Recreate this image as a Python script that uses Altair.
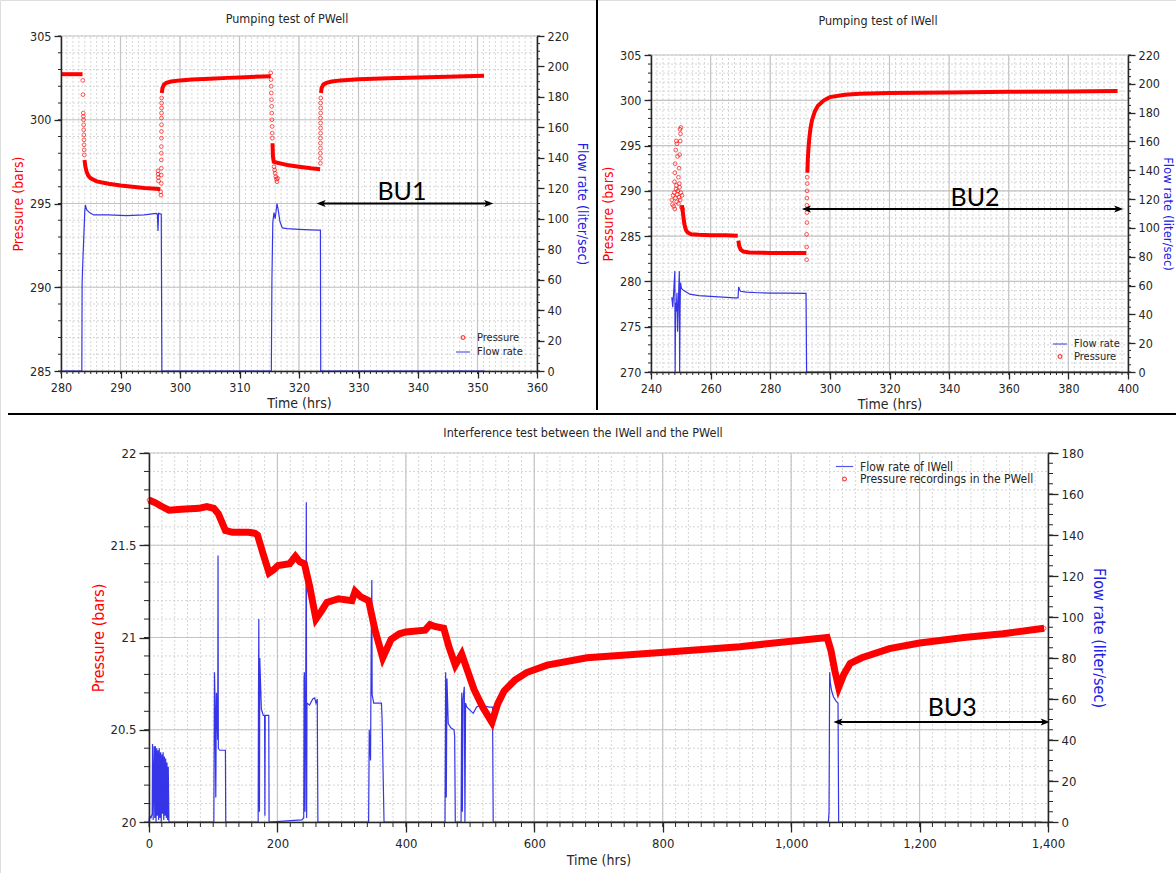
import altair as alt
import pandas as pd

FONT = "DejaVu Sans Condensed, DejaVu Sans, sans-serif"
BU_FONT = "Lato, Liberation Sans, sans-serif"
RED = "#ff0000"
BLUE = "#2020e6"
INK = "#262626"
GRID_MAJOR = "#c4c4c4"
GRID_MINOR = "#d6d6d6"
CANVAS_W, CANVAS_H = 1176, 873

# ---------------- Top-left: Pumping test of PWell ----------------
TL_FLOW_T = [280, 283.5, 283.55, 283.7, 283.85, 284.0, 284.1, 284.3, 284.8, 285.5, 288, 291, 294, 296.0, 296.2, 296.3,
             296.4, 296.85, 296.95, 315.35, 315.45, 315.6, 315.8, 316.0, 316.3, 316.5, 316.8, 317.2, 318, 320, 323,
             323.6, 323.65, 351.2]
TL_FLOW_Q = [0, 0, 58, 75, 90, 105, 109, 106, 104, 102.5, 102.5, 102, 102.5, 103.5, 103, 92,
             103.5, 103, 0, 0, 60, 98, 104, 100, 110, 106, 98, 94, 93.5, 93, 92.5,
             92.5, 0, 0]
TL_SEG_ID = [1, 1,
             2, 2, 2, 2, 2, 2, 2, 2, 2, 2, 2, 2,
             3, 3, 3, 3, 3, 3, 3, 3, 3, 3, 3,
             4, 4, 4, 4, 4, 4, 4, 4, 4,
             5, 5, 5, 5, 5, 5, 5, 5, 5, 5, 5]
TL_SEG_T = [280, 283.62,
            283.95, 284.1, 284.3, 284.6, 285, 286, 288, 290, 292, 294, 296, 296.7,
            296.95, 297.05, 297.3, 297.7, 298.5, 300, 302, 305, 308, 311, 315.25,
            315.55, 315.62, 315.75, 316.2, 317, 318, 320, 322, 323.55,
            323.7, 323.8, 324.1, 324.6, 325.5, 327, 330, 335, 340, 345, 351.1]
TL_SEG_P = [302.72, 302.72,
            297.6, 297.2, 296.9, 296.65, 296.5, 296.32, 296.18, 296.07, 296.0, 295.93, 295.88, 295.85,
            301.6, 301.9, 302.1, 302.2, 302.28, 302.35, 302.4, 302.45, 302.5, 302.54, 302.6,
            298.6, 297.8, 297.5, 297.45, 297.38, 297.3, 297.2, 297.1, 297.05,
            301.6, 301.9, 302.1, 302.2, 302.28, 302.35, 302.42, 302.48, 302.52, 302.57, 302.62]
TL_PTS_T = [283.66, 283.7, 283.74, 283.76, 283.78, 283.8, 283.82, 283.84, 283.86, 283.88, 283.9, 283.92,
            296.3, 296.32, 296.35, 296.4, 296.75, 296.8,
            296.85, 296.85, 296.86, 296.86, 296.87, 296.87, 296.88, 296.88, 296.89, 296.89, 296.9, 296.9, 296.91, 296.92,
            315.25, 315.3, 315.32, 315.35, 315.38, 315.4, 315.42, 315.45, 315.48, 315.5, 315.52,
            315.8, 315.9, 316.0, 316.1, 316.2, 316.3, 316.4,
            323.6, 323.6, 323.6, 323.6, 323.6, 323.6, 323.62, 323.62, 323.62, 323.62, 323.64, 323.64, 323.64, 323.66]
TL_PTS_P = [302.35, 301.5, 300.4, 300.2, 300.0, 299.7, 299.4, 299.1, 298.8, 298.5, 298.2, 297.9,
            296.95, 296.75, 296.55, 296.35, 295.7, 295.5,
            296.2, 296.7, 297.1, 297.6, 298.0, 298.4, 298.9, 299.3, 299.7, 300.1, 300.4, 300.7, 301.0, 301.3,
            302.8, 302.4, 302.0, 301.6, 301.2, 300.8, 300.4, 300.0, 299.6, 299.2, 298.9,
            297.2, 297.0, 296.8, 296.6, 296.45, 296.3, 296.5,
            297.4, 297.7, 298.0, 298.3, 298.6, 298.9, 299.2, 299.5, 299.8, 300.1, 300.4, 300.7, 301.0, 301.3]
TL_ARROW_T = [324.0, 351.6]
TL_ARROW_P = 295.0
TL_LABEL = ("BU1", 337.3, 295.7)

# ---------------- Top-right: Pumping test of IWell ----------------
TR_FLOW_T = [247.0, 247.3, 247.6, 248.0, 248.1, 248.25, 248.5, 248.7, 248.9, 249.2, 249.5, 249.6, 249.75, 249.9,
             250.2, 251, 253, 256, 260, 264, 268, 269.2, 269.4, 270, 272, 276, 280, 285, 292.0, 292.2, 397]
TR_FLOW_Q = [52, 45, 55, 70, 0, 48, 42, 55, 28, 50, 70, 0, 44, 62,
             58, 56.5, 54, 53, 52.5, 52, 51.5, 51.5, 59, 56, 55.5, 55, 54.8, 54.7, 54.6, 0, 0]
TR_SEG_ID = [1] * 10 + [2] * 7 + [3] * 17
TR_SEG_T = [250.4, 250.8, 251.2, 251.7, 252.3, 253.5, 256, 260, 265, 269.1,
            269.3, 269.6, 270.1, 271, 273, 280, 292.1,
            292.45, 292.6, 292.8, 293.1, 293.5, 294, 295, 296, 298, 300, 305, 310, 320, 340, 360, 380, 396.5]
TR_SEG_P = [288.4, 287.3, 286.3, 285.7, 285.4, 285.2, 285.15, 285.1, 285.1, 285.05,
            284.5, 283.9, 283.5, 283.3, 283.2, 283.15, 283.15,
            292.0, 293.5, 294.6, 295.8, 296.9, 297.8, 298.8, 299.4, 300.0, 300.35, 300.6, 300.72, 300.8, 300.87,
            300.93, 300.98, 301.02]
TR_PTS_T = [247.0, 247.2, 247.4, 247.6, 247.8, 248.0, 248.2, 248.4, 248.6, 248.8, 249.0, 249.2, 249.4, 249.6,
            249.8, 250.0, 250.2, 250.4, 250.6,
            247.9, 248.0, 248.1, 248.3, 248.5, 248.7, 248.9, 249.2, 249.4, 249.6, 249.8, 249.9, 250.0, 249.7,
            249.5, 248.5,
            292.2, 292.2, 292.2, 292.3, 292.3, 292.3, 292.3, 292.35, 292.4, 292.4]
TR_PTS_P = [289.0, 288.5, 289.5, 288.3, 289.8, 288.0, 289.2, 290.2, 288.8, 289.6, 290.0, 288.6, 289.3, 290.4,
            289.0, 289.8, 288.2, 289.5, 288.0,
            291.0, 292.0, 293.0, 294.5, 295.5, 295.2, 293.8, 291.5, 292.5, 294.0, 295.5, 296.3, 297.0, 296.8,
            290.8, 290.6,
            282.4, 283.8, 285.2, 286.5, 287.6, 288.4, 289.2, 290.0, 290.8, 291.5]
TR_ARROW_T = [292.7, 396.3]
TR_ARROW_P = 288.0
TR_LABEL = ("BU2", 348.7, 289.2)

# ---------------- Bottom: Interference test ----------------
BOT_FLOW_T = [0, 1, 3, 5, 5.5, 6.5, 8, 9, 10, 11, 12, 13, 14, 15, 16, 17, 18, 19, 20, 21, 22, 23, 24, 25, 26, 27,
              28, 29, 30, 31,
              101, 102, 103, 104, 105, 107, 107.5, 108, 110, 119, 119.5,
              170, 170.5, 171, 172, 172.5, 175, 178, 180, 180.5, 181, 186.5, 187,
              238, 241, 241.5, 242, 243, 244, 245, 245.5, 246, 250, 255, 258, 260, 262, 263,
              342, 343, 345, 346, 347, 347.5, 350, 360, 362, 363, 366,
              461, 462, 463, 464, 466, 470, 475, 476, 477,
              486, 487, 488, 489, 491, 492, 493, 495, 505, 510, 515, 530, 535, 536,
              1058, 1059, 1060, 1061, 1063, 1066, 1070, 1073, 1074, 1390]
BOT_FLOW_Q = [0, 3, 2, 4, 38, 1, 37, 2, 37, 0, 36, 3, 35, 1, 36, 2, 34, 0, 33, 4, 34, 1, 32, 3, 31, 2,
              29, 1, 27, 0,
              0, 73, 55, 12, 63, 40, 130, 36, 35, 35, 0,
              0, 60, 99, 5, 80, 55, 52, 52, 3, 52, 52, 0,
              1, 2, 70, 73, 5, 60, 156, 2, 58, 57, 60, 60.5, 58, 60, 0,
              0, 45, 30, 85, 118, 62, 58, 58, 58, 50, 0,
              0, 73, 12, 70, 48, 46, 45, 42, 0,
              0, 63, 5, 60, 66, 0, 58, 56, 53, 56, 57, 56, 56, 0,
              0, 5, 73, 68, 64, 61, 59, 58, 0, 0]
BOT_P_T = [0, 10, 20, 31, 50, 78, 90, 101, 108, 119, 130, 155, 165, 169, 178, 187, 195, 201, 219, 228, 235, 242,
           250, 260, 268, 277, 295, 316, 321, 330, 342, 352, 364, 377, 390, 400, 430, 437.6, 445, 459, 467, 477,
           487, 495, 506, 520, 534, 543, 553, 570, 588, 620, 682, 803, 920, 1000, 1056, 1062, 1068, 1074, 1082,
           1092, 1110, 1153, 1200, 1269, 1330, 1394]
BOT_P_P = [21.745, 21.73, 21.71, 21.69, 21.695, 21.70, 21.71, 21.70, 21.67, 21.58, 21.57, 21.57, 21.565, 21.555,
           21.45, 21.35, 21.37, 21.39, 21.40, 21.44, 21.41, 21.40,
           21.28, 21.10, 21.14, 21.19, 21.21, 21.20, 21.25, 21.22, 21.20, 21.04, 20.89, 20.99, 21.02, 21.03, 21.04,
           21.07, 21.06, 21.05, 20.95, 20.85,
           20.91, 20.83, 20.72, 20.62, 20.54, 20.64, 20.71, 20.77, 20.81, 20.85, 20.89, 20.92, 20.95, 20.98, 21.0,
           20.93, 20.82, 20.73, 20.80,
           20.86, 20.89, 20.94, 20.97, 21.0, 21.02, 21.05]
BOT_ARROW_T = [1075.6, 1393]
BOT_ARROW_P = 20.542
BOT_LABEL = ("BU3", 1251, 20.62)

LEFT_HEAD = "M-1,0L0.45,-0.55L0.1,0L0.45,0.55Z"
RIGHT_HEAD = "M1,0L-0.45,-0.55L-0.1,0L-0.45,0.55Z"


def steps(a, b, s):
    out = []
    v = a
    while v <= b + 1e-9:
        out.append(round(v, 4))
        v += s
    return out


def panel(c):
    x0, x1, ytop, ybot = c["box"]
    xs = alt.Scale(domain=c["xdom"], range=[x0, x1], nice=False, zero=False)
    ys = alt.Scale(domain=c["ydom"], range=[ybot, ytop], nice=False, zero=False)
    qs = alt.Scale(domain=c["qdom"], range=[ybot, ytop], nice=False, zero=False)
    common = dict(grid=False, tickSize=c["tick"], tickColor=INK, tickWidth=1.3, domainColor=INK,
                  domainWidth=1.5, labelFontSize=c["labfs"], labelColor=INK, titleFontWeight="normal",
                  labelFont=FONT, titleFont=FONT, zindex=2)
    xaxis = alt.Axis(orient="bottom", offset=ybot - CANVAS_H, title="Time (hrs)", values=c["xticks"],
                     format=c["xfmt"], labelPadding=c["xlabpad"], titleFontSize=c["xtitlefs"], titleColor=INK,
                     titlePadding=c["xtitlepad"], labelFlush=False, **common)
    laxis = alt.Axis(orient="left", offset=-x0, title="Pressure (bars)", values=c["yticks"], format=c["yfmt"],
                     labelPadding=3, titleFontSize=c["ytitlefs"], titleColor=RED,
                     titlePadding=c["ytitlepad"], **common)
    raxis = alt.Axis(orient="right", offset=x1 - CANVAS_W, title="Flow rate (liter/sec)", values=c["qticks"],
                     labelPadding=3, titleFontSize=c["qtitlefs"], titleColor=BLUE,
                     titlePadding=c["qtitlepad"], **common)

    def X(field="t", axis=None):
        return alt.X(f"{field}:Q", scale=xs, axis=axis)

    def P(field="p", axis=None):
        return alt.Y(f"{field}:Q", scale=ys, axis=axis)

    def Q(field="q", axis=None):
        return alt.Y(f"{field}:Q", scale=qs, axis=axis)

    xlo, xhi = c["xdom"]
    ylo, yhi = c["ydom"]
    mt = c["minortick"]
    layers = []

    def vgrid(vals):
        return pd.DataFrame({"t": vals, "y0": [ylo] * len(vals), "y1": [yhi] * len(vals)})

    def hgrid(vals):
        return pd.DataFrame({"p": vals, "x0": [xlo] * len(vals), "x1": [xhi] * len(vals)})

    # grid
    layers.append(alt.Chart(vgrid(c["xgrid_minor"])).mark_rule(
        color=GRID_MINOR, strokeWidth=1, strokeDash=[2, 2]).encode(x=X(), y=P("y0"), y2="y1:Q"))
    layers.append(alt.Chart(hgrid(c["ygrid_minor"])).mark_rule(
        color=GRID_MINOR, strokeWidth=1, strokeDash=[2, 2]).encode(y=P(), x=X("x0"), x2="x1:Q"))
    layers.append(alt.Chart(vgrid(c["xticks"])).mark_rule(
        color=GRID_MAJOR, strokeWidth=1.2).encode(x=X(), y=P("y0"), y2="y1:Q"))
    layers.append(alt.Chart(hgrid(c["yticks"])).mark_rule(
        color=GRID_MAJOR, strokeWidth=1.2).encode(y=P(), x=X("x0"), x2="x1:Q"))
    # minor ticks on the three axes
    xm = pd.DataFrame({"t": c["xminor"], "y0": [ylo] * len(c["xminor"])})
    layers.append(alt.Chart(xm).mark_rule(color=INK, strokeWidth=1, y2Offset=mt).encode(
        x=X(), y=P("y0"), y2="y0:Q"))
    ym = pd.DataFrame({"p": c["yminor"], "x0": [xlo] * len(c["yminor"])})
    layers.append(alt.Chart(ym).mark_rule(color=INK, strokeWidth=1, x2Offset=-mt).encode(
        y=P(), x=X("x0"), x2="x0:Q"))
    qm = pd.DataFrame({"q": c["qminor"], "x1": [xhi] * len(c["qminor"])})
    layers.append(alt.Chart(qm).mark_rule(color=INK, strokeWidth=1, x2Offset=mt).encode(
        y=Q(), x=X("x1"), x2="x1:Q"))
    # flow rate line (right axis)
    fdf = pd.DataFrame({"t": c["flow_t"], "q": c["flow_q"]})
    fdf["i"] = range(len(fdf))
    layers.append(alt.Chart(fdf).mark_line(strokeWidth=c["flow_w"], color=BLUE, opacity=0.9).encode(
        x=X(axis=xaxis), y=Q(axis=raxis), order=alt.Order("i:Q")))
    # pressure: dense stretches
    sdf = pd.DataFrame({"t": c["seg_t"], "p": c["seg_p"], "g": c["seg_id"]})
    sdf["i"] = range(len(sdf))
    layers.append(alt.Chart(sdf).mark_line(color=RED, strokeWidth=c["seg_w"]).encode(
        x=X(), y=P(), detail="g:N", order=alt.Order("i:Q")))
    # pressure: individual recordings (carries the legend)
    order = c["order"]
    leg = alt.Legend(title=None, orient="none", legendX=c["legx"], legendY=c["legy"], labelFont=FONT,
                     labelFontSize=c["legfs"], labelColor=INK, symbolStrokeWidth=1.2, rowPadding=c["legrow"],
                     labelOffset=6, padding=0, labelLimit=400)
    col = alt.Color("s:N", scale=alt.Scale(domain=order, range=c["colors"]), legend=leg)
    shp = alt.Shape("s:N", scale=alt.Scale(domain=order, range=c["shapes"]), legend=leg)
    siz = alt.Size("s:N", scale=alt.Scale(type="ordinal", domain=order, range=c["sizes"]), legend=leg)
    pdf = pd.DataFrame({"t": c["pts_t"], "p": c["pts_p"], "s": c["p_name"]})
    layers.append(alt.Chart(pdf).mark_point(filled=False, strokeWidth=0.9, opacity=0.75).encode(
        x=X(), y=P(axis=laxis), color=col, shape=shp, size=siz))
    # build-up arrow with label
    adf = pd.DataFrame({"t": [c["arrow_t"][0]], "t2": [c["arrow_t"][1]], "p": [c["arrow_p"]]})
    layers.append(alt.Chart(adf).mark_rule(color="black", strokeWidth=2).encode(
        x=X(), x2="t2:Q", y=P()))
    hl = pd.DataFrame({"t": [c["arrow_t"][0]], "p": [c["arrow_p"]]})
    hr = pd.DataFrame({"t": [c["arrow_t"][1]], "p": [c["arrow_p"]]})
    layers.append(alt.Chart(hl).mark_point(shape=LEFT_HEAD, filled=True, color="black", size=160,
                                           opacity=1).encode(x=X(), y=P()))
    layers.append(alt.Chart(hr).mark_point(shape=RIGHT_HEAD, filled=True, color="black", size=160,
                                           opacity=1).encode(x=X(), y=P()))
    txt, tt, tp = c["label"]
    layers.append(alt.Chart(pd.DataFrame({"t": [tt], "p": [tp], "txt": [txt]})).mark_text(
        font=BU_FONT, fontSize=c["bufs"], color="black", baseline="middle", align="center").encode(
        x=X(), y=P(), text="txt:N"))
    # panel title
    tx, ty = c["title_pos"]
    layers.append(alt.Chart(pd.DataFrame({"txt": [c["title"]]})).mark_text(
        font=FONT, fontSize=c["titlefs"], color=INK, baseline="middle", align="center").encode(
        x=alt.value(tx), y=alt.value(ty), text="txt:N"))
    return layers


tl = panel(dict(
    box=(61, 537, 36, 371), xdom=[280, 360], ydom=[285, 305], qdom=[0, 220],
    xticks=steps(280, 360, 10), xminor=steps(280, 360, 1), xgrid_minor=steps(280, 360, 1), xfmt="d",
    yticks=steps(285, 305, 5), yminor=steps(285, 305, 1), ygrid_minor=steps(285, 305, 1), yfmt="d",
    qticks=steps(0, 220, 20), qminor=steps(0, 220, 5),
    tick=7, minortick=3, labfs=12.5, xtitlefs=14, ytitlefs=14, qtitlefs=14, xlabpad=3, xtitlepad=3,
    ytitlepad=4, qtitlepad=6,
    order=["Pressure", "Flow rate"], colors=[RED, BLUE], shapes=["circle", "stroke"], sizes=[14, 196],
    legx=455, legy=332, legfs=11, legrow=1,
    flow_t=TL_FLOW_T, flow_q=TL_FLOW_Q, flow_w=1.2,
    seg_t=TL_SEG_T, seg_p=TL_SEG_P, seg_id=TL_SEG_ID, seg_w=4,
    pts_t=TL_PTS_T, pts_p=TL_PTS_P, p_name="Pressure",
    arrow_t=TL_ARROW_T, arrow_p=TL_ARROW_P, label=TL_LABEL, bufs=25,
    title="Pumping test of PWell", titlefs=12.5, title_pos=(287, 19),
))

tr = panel(dict(
    box=(651, 1128, 55, 372), xdom=[240, 400], ydom=[270, 305], qdom=[0, 220],
    xticks=steps(240, 400, 20), xminor=steps(240, 400, 2), xgrid_minor=steps(240, 400, 2), xfmt="d",
    yticks=steps(270, 305, 5), yminor=steps(270, 305, 1), ygrid_minor=steps(270, 305, 1), yfmt="d",
    qticks=steps(0, 220, 20), qminor=steps(0, 220, 5),
    tick=7, minortick=3, labfs=12.5, xtitlefs=14, ytitlefs=14, qtitlefs=13, xlabpad=3, xtitlepad=3,
    ytitlepad=4, qtitlepad=1,
    order=["Flow rate", "Pressure"], colors=[BLUE, RED], shapes=["stroke", "circle"], sizes=[196, 14],
    legx=1052, legy=336, legfs=11, legrow=1,
    flow_t=TR_FLOW_T, flow_q=TR_FLOW_Q, flow_w=1.2,
    seg_t=TR_SEG_T, seg_p=TR_SEG_P, seg_id=TR_SEG_ID, seg_w=4,
    pts_t=TR_PTS_T, pts_p=TR_PTS_P, p_name="Pressure",
    arrow_t=TR_ARROW_T, arrow_p=TR_ARROW_P, label=TR_LABEL, bufs=25,
    title="Pumping test of IWell", titlefs=12.5, title_pos=(878, 21),
))

bot = panel(dict(
    box=(149, 1048, 453, 822), xdom=[0, 1400], ydom=[20, 22], qdom=[0, 180],
    xticks=steps(0, 1400, 200), xminor=steps(0, 1400, 20), xgrid_minor=steps(0, 1400, 20), xfmt=",d",
    yticks=steps(20, 22, 0.5), yminor=steps(20, 22, 0.1), ygrid_minor=steps(20, 22, 0.1), yfmt="",
    qticks=steps(0, 180, 20), qminor=steps(0, 180, 5),
    tick=10, minortick=5, labfs=13, xtitlefs=14, ytitlefs=16, qtitlefs=16, xlabpad=5, xtitlepad=3,
    ytitlepad=3, qtitlepad=7,
    order=["Flow rate of IWell", "Pressure recordings in the PWell"], colors=[BLUE, RED],
    shapes=["stroke", "circle"], sizes=[300, 14],
    legx=835, legy=457, legfs=12, legrow=0,
    flow_t=BOT_FLOW_T, flow_q=BOT_FLOW_Q, flow_w=1.2,
    seg_t=BOT_P_T, seg_p=BOT_P_P, seg_id=[1] * len(BOT_P_T), seg_w=7,
    pts_t=BOT_P_T, pts_p=BOT_P_P, p_name="Pressure recordings in the PWell",
    arrow_t=BOT_ARROW_T, arrow_p=BOT_ARROW_P, label=BOT_LABEL, bufs=25,
    title="Interference test between the IWell and the PWell", titlefs=12.5, title_pos=(583, 433),
))

# separators between the three panels
SEP_V = dict(x=597, y=0, y2=410)
SEP_H = dict(x=8, x2=1176, y=414)
seps = [
    alt.Chart(pd.DataFrame({"k": [0]})).mark_rule(color="black", strokeWidth=2).encode(
        x=alt.value(SEP_V["x"]), y=alt.value(SEP_V["y"]), y2=alt.value(SEP_V["y2"])),
    alt.Chart(pd.DataFrame({"k": [0]})).mark_rule(color="black", strokeWidth=2).encode(
        x=alt.value(SEP_H["x"]), x2=alt.value(SEP_H["x2"]), y=alt.value(SEP_H["y"])),
]

chart = alt.layer(*(tl + tr + bot + seps)).resolve_scale(
    x="independent", y="independent", color="independent", shape="independent", size="independent"
).properties(width=CANVAS_W, height=CANVAS_H, autosize="none", padding=0, background="white"
             ).configure_view(stroke=None).configure(font=FONT)

chart.save("out.html", embed_options={"renderer": "svg", "actions": False})
